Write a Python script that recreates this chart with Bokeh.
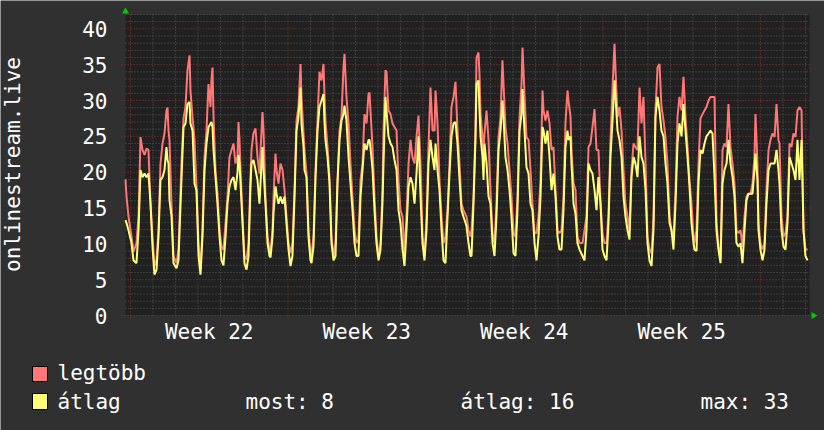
import math
from bokeh.plotting import figure
from bokeh.models import Range1d
from bokeh.core.properties import value
from bokeh.embed import file_html
from bokeh.resources import INLINE

# ---------------- data (hours since graph start) ----------------
hours = [
    0, 1.1, 3.2, 6.4, 8.5, 11.7, 13.9, 16.0, 18.1, 20.3, 22.4, 24.5, 26.7, 28.8, 30.9,
    33.1, 35.2, 37.3, 39.5, 41.6, 43.7, 44.8, 45.9, 46.9, 49.1, 51.2, 54.4, 56.5, 59.7, 61.9,
    64.0, 66.1, 68.3, 69.3, 71.5, 73.6, 75.7, 77.9, 80.0, 82.1, 84.3, 86.4, 88.5, 89.6, 90.7,
    91.7, 92.8, 93.9, 96.0, 98.1, 100.3, 102.4, 104.5, 106.7, 108.8, 110.9, 113.1, 115.2, 117.3, 119.5,
    120.5, 121.6, 122.7, 124.8, 126.9, 129.1, 131.2, 133.3, 134.4, 136.5, 138.7, 140.8, 142.9, 145.1, 146.1,
    147.2, 149.3, 151.5, 153.6, 154.7, 156.8, 157.9, 160.0, 161.1, 163.2, 165.3, 167.5, 169.6, 171.7, 173.9,
    176.0, 178.1, 180.3, 182.4, 184.5, 186.7, 187.7, 189.9, 190.9, 193.1, 195.2, 197.3, 198.4, 200.5, 202.7,
    204.8, 206.9, 209.1, 211.2, 212.3, 213.3, 215.5, 217.6, 219.7, 221.9, 224.0, 226.1, 228.3, 230.4, 232.5,
    233.6, 235.7, 237.9, 240.0,
    242.1, 244.3, 246.4, 248.5, 250.7, 252.8, 254.9, 257.1, 259.2, 260.3, 261.3, 263.5, 265.6, 267.7, 269.9,
    272.0, 274.1, 275.2, 277.3, 278.4, 280.5, 282.7, 284.8, 286.9, 289.1, 291.2, 293.3, 295.5, 297.6, 299.7,
    301.9, 304.0, 306.1, 308.3, 310.4, 312.5, 314.7, 316.8, 318.9, 321.1, 323.2, 325.3, 327.5, 329.6, 330.7,
    332.8, 334.9, 337.1, 339.2, 341.3, 343.5, 345.6, 347.7, 349.9, 352.0, 354.1, 356.3, 358.4, 360.5,
    363.7, 365.9, 368.0, 369.1, 371.2, 373.3, 374.4, 376.5, 377.6, 378.7, 380.8, 381.9, 382.9, 385.1, 387.2,
    389.3, 391.5, 393.6, 395.7, 397.9, 400.0, 402.1, 403.2, 405.3, 407.5, 409.6, 411.7, 413.9, 416.0, 418.1,
    420.3, 422.4, 423.5, 425.6, 427.7, 429.9, 432.0, 434.1, 436.3, 438.4, 440.5, 442.7, 444.8, 445.9, 448.0,
    450.1, 452.3, 454.4, 456.5, 458.7, 460.8, 462.9, 465.1, 467.2, 469.3, 471.5, 472.5, 474.7, 475.7, 477.9,
    480.0, 482.1, 484.3,
    487.5, 489.6, 491.7, 493.9, 496.0, 498.1, 500.3, 502.4, 504.5, 506.7, 508.8, 510.9, 513.1, 515.2, 517.3,
    519.5, 521.6, 522.7, 524.8, 526.9, 529.1, 531.2, 533.3, 535.5, 537.6, 539.7, 541.9, 544.0, 546.1, 548.3,
    550.4, 552.5, 554.7, 556.8, 558.9, 561.1, 563.2, 565.3, 567.5, 569.6, 571.7, 573.9, 576.0, 578.1, 580.3,
    582.4, 584.5, 586.7, 588.8, 590.9, 593.1, 595.2, 597.3, 599.5, 601.6, 603.7, 605.9,
    606.9, 609.1, 611.2, 613.3, 615.5, 617.6, 619.7, 621.9, 624.0, 626.1, 628.3, 630.4, 632.5, 634.7, 636.8,
    638.9, 641.1, 643.2, 645.3, 647.5, 649.6, 651.7, 653.9, 656.0, 658.1, 660.3, 662.4, 664.5, 666.7, 668.8,
    670.9, 672.0, 674.1, 675.2, 677.3, 679.5, 681.6, 683.7, 685.9, 688.0, 690.1, 692.3, 694.4, 696.5, 697.6,
    699.7, 701.9, 704.0, 706.1, 708.3, 710.4, 712.5, 714.7, 716.8, 718.9, 721.1, 723.2, 725.3, 727.5,
]

legtobb = [
    19.0, 16.6, 13.8, 11.0, 8.9, 10.1, 13.8, 24.9, 23.1, 22.4, 23.3, 23.1, 15.6, 11.0, 6.9,
    7.8, 11.9, 21.2, 24.0, 25.4, 28.6, 29.0, 25.8, 24.5, 15.6, 8.3, 7.3, 9.2, 21.2, 27.5,
    29.1, 34.2, 36.3, 31.4, 27.7, 24.5, 18.0, 10.1, 6.4, 11.9, 22.1, 25.8, 32.3, 30.5, 29.1,
    32.8, 34.6, 27.7, 20.3, 17.0, 11.9, 9.6, 9.2, 12.9, 16.6, 22.1, 23.1, 24.0, 21.2, 22.1,
    27.0, 24.5, 20.3, 13.8, 8.3, 7.8, 10.1, 19.3, 23.1, 25.4, 26.1, 22.1, 19.8, 25.8, 28.4,
    25.8, 16.6, 11.0, 9.2, 8.7, 11.9, 16.6, 22.6, 20.3, 18.4, 21.2, 20.3, 17.5, 13.8, 10.1,
    8.7, 10.1, 17.5, 27.2, 29.1, 35.1, 30.5, 25.4, 23.1, 19.8, 11.9, 8.7, 8.3, 11.0, 20.3,
    27.2, 34.0, 32.8, 35.1, 30.5, 27.2, 23.5, 19.3, 11.0, 8.3, 10.1, 18.9, 25.8, 27.7, 34.6,
    36.5, 30.5, 26.8, 21.2,
    16.6, 11.9, 10.1, 10.6, 18.9, 21.2, 28.1, 26.8, 30.9, 31.1, 28.6, 23.5, 16.6, 11.0, 8.3,
    10.1, 17.5, 25.8, 34.2, 34.0, 28.6, 28.1, 26.8, 26.3, 25.8, 18.9, 14.7, 13.8, 8.3, 13.8,
    21.2, 24.5, 22.1, 21.2, 24.9, 27.9, 21.2, 11.0, 8.3, 13.8, 23.5, 31.8, 25.8, 25.8, 31.4,
    26.8, 18.9, 13.8, 10.1, 11.0, 14.7, 21.2, 29.1, 30.5, 32.6, 25.8, 21.2, 15.6, 14.7,
    13.8, 11.9, 11.0, 11.9, 16.6, 25.8, 36.0, 36.7, 33.7, 28.1, 24.9, 22.1, 25.4, 28.6, 24.5,
    17.5, 11.5, 10.1, 15.6, 24.9, 27.7, 35.6, 32.3, 26.3, 24.0, 20.3, 16.6, 11.5, 11.0, 16.6,
    27.7, 32.3, 37.4, 30.9, 24.9, 24.5, 20.3, 15.6, 11.5, 11.5, 13.8, 18.9, 31.4, 28.6, 27.2,
    28.6, 26.8, 23.1, 23.5, 17.5, 11.9, 11.5, 11.9, 16.6, 26.8, 31.4, 30.0, 27.7, 23.1, 18.4,
    17.5, 11.0, 10.1,
    10.1, 11.9, 13.8, 23.5, 24.0, 26.3, 28.8, 23.1, 23.1, 15.6, 11.5, 10.1, 10.1, 14.2, 24.5,
    31.8, 37.9, 34.2, 27.7, 29.1, 25.8, 20.3, 15.6, 13.8, 11.9, 20.3, 24.0, 23.5, 23.1, 31.8,
    26.8, 30.5, 21.2, 11.0, 9.2, 8.7, 13.8, 28.6, 34.6, 35.1, 29.1, 27.2, 24.9, 21.2, 13.8,
    11.9, 10.6, 17.5, 27.7, 30.5, 28.6, 33.3, 27.7, 23.5, 18.9, 15.6, 11.0,
    10.1, 11.9, 21.2, 27.5, 28.1, 28.6, 29.1, 30.0, 30.5, 30.5, 30.5, 12.9, 9.6, 7.8, 23.1,
    24.0, 23.5, 29.5, 23.5, 21.2, 18.4, 11.9, 11.5, 11.9, 9.6, 13.8, 16.6, 17.0, 17.0, 18.4,
    22.1, 28.1, 21.2, 12.9, 10.1, 9.2, 10.1, 17.5, 23.1, 24.5, 25.4, 24.9, 29.5, 24.5, 24.0,
    13.8, 11.0, 11.5, 13.8, 24.0, 23.5, 25.4, 24.9, 28.6, 29.1, 28.6, 11.9, 9.2, 9.2,
]

atlag = [
    13.3, 12.9, 11.9, 10.1, 7.7, 7.3, 11.9, 20.3, 19.3, 19.8, 19.3, 19.8, 15.6, 9.6, 5.7,
    6.4, 11.0, 18.9, 19.3, 20.3, 23.5, 21.7, 21.2, 16.1, 13.8, 7.3, 6.6, 7.7, 18.9, 26.3,
    26.8, 29.5, 29.8, 26.8, 25.8, 18.4, 17.5, 8.3, 5.7, 11.0, 20.3, 24.0, 26.3, 26.5, 26.8,
    27.0, 26.3, 23.1, 19.3, 15.6, 11.0, 7.7, 7.0, 11.0, 15.6, 18.0, 18.9, 19.3, 17.5, 20.0,
    22.4, 21.2, 18.4, 12.9, 7.3, 6.4, 8.3, 18.0, 21.2, 21.7, 20.3, 18.9, 15.6, 21.2, 23.5,
    20.3, 15.6, 10.1, 8.3, 8.1, 11.0, 14.3, 18.0, 17.0, 15.6, 16.6, 15.6, 16.6, 12.9, 9.2,
    6.9, 8.3, 16.6, 25.8, 27.7, 31.8, 26.8, 23.5, 20.3, 19.3, 11.0, 7.7, 7.3, 9.6, 19.3,
    25.8, 29.1, 30.0, 30.9, 26.8, 24.5, 22.1, 18.4, 10.1, 7.7, 8.3, 18.4, 24.5, 27.2, 28.1,
    29.3, 27.2, 22.1, 18.4,
    14.7, 10.1, 8.3, 8.3, 16.6, 20.3, 24.0, 23.1, 24.5, 24.5, 23.5, 20.3, 14.7, 10.1, 7.7,
    9.2, 15.6, 21.2, 30.5, 28.6, 25.0, 24.0, 23.5, 21.7, 20.3, 14.7, 12.9, 9.2, 6.9, 11.9,
    18.0, 19.3, 18.4, 15.6, 19.8, 25.0, 16.6, 10.1, 7.7, 11.9, 21.2, 24.5, 22.1, 20.3, 24.0,
    20.3, 17.5, 11.9, 7.7, 7.3, 13.8, 19.8, 25.0, 26.8, 27.0, 24.0, 18.9, 14.7, 13.8,
    12.5, 10.1, 8.3, 8.3, 15.6, 24.5, 32.3, 32.8, 28.6, 25.0, 22.1, 18.9, 24.0, 21.2, 16.6,
    15.6, 10.1, 8.3, 13.8, 23.1, 25.8, 30.0, 27.7, 22.1, 20.3, 17.5, 13.8, 8.7, 8.3, 14.7,
    25.8, 28.1, 31.6, 25.8, 20.7, 19.8, 15.6, 14.7, 10.1, 7.7, 11.0, 16.6, 26.3, 25.8, 24.0,
    25.8, 22.1, 17.5, 19.8, 16.6, 11.0, 9.2, 9.2, 14.7, 23.5, 25.8, 24.5, 25.0, 21.2, 15.6,
    14.2, 10.1, 9.2,
    8.3, 7.7, 11.9, 21.2, 20.3, 19.8, 17.5, 14.7, 19.3, 15.6, 9.2, 8.3, 7.7, 12.9, 22.1,
    27.2, 32.8, 30.5, 25.8, 24.5, 22.1, 16.6, 13.8, 11.9, 10.6, 19.3, 22.1, 21.2, 19.3, 25.0,
    22.1, 21.2, 17.5, 10.1, 7.7, 6.9, 11.9, 27.7, 30.5, 28.6, 25.8, 25.0, 21.2, 18.4, 12.9,
    11.9, 9.2, 15.6, 24.0, 26.8, 25.0, 29.5, 25.8, 22.1, 18.0, 12.9, 10.1,
    9.2, 9.0, 18.4, 23.1, 22.6, 24.0, 25.0, 25.4, 25.8, 25.4, 19.3, 11.9, 9.2, 7.3, 18.4,
    20.3, 21.2, 24.5, 21.2, 19.3, 16.6, 10.1, 9.6, 10.1, 7.3, 11.9, 16.1, 17.0, 17.0, 17.0,
    20.3, 22.6, 18.9, 11.9, 9.2, 7.7, 9.2, 15.6, 20.3, 21.2, 21.2, 21.2, 23.1, 20.3, 18.4,
    11.9, 9.6, 9.2, 12.9, 22.1, 21.2, 20.3, 18.9, 24.5, 18.9, 24.5, 11.9, 8.3, 7.7,
]

week_labels = ["Week 22", "Week 23", "Week 24", "Week 25"]
week_start_hours = [5.3, 173.3, 341.3, 509.3, 677.3]
y_major_ticks = [0, 5, 10, 15, 20, 25, 30, 35, 40]
y_label = "onlinestream.live"
series_names = ["legtöbb", "átlag"]
stat_most, stat_atlag, stat_max = 8, 16, 33

# ---------------- style / layout ----------------
W, H = 824, 430
BG = "#303030"
PLOT_BG = "#212121"
RED = "#ff7777"
YEL = "#ffff77"
TXT = "#ffffff"
GREEN = "#00cc00"
MINOR = "#585858"
MAJOR = "#8a3232"
FONT = "DejaVu Sans Mono"
FS = "21px"

X_END = 729.6          # hours shown
Y_END = 42             # value axis top
PX_L, PX_R, PX_T, PX_B = 125, 809, 14, 315   # plot-area edges on the canvas

sx = (PX_R - PX_L) / X_END
sy = (PX_B - PX_T) / Y_END


def dx(px):
    return (px - PX_L) / sx


def dy(py):
    return (PX_B - py) / sy


p = figure(width=W, height=H, output_backend="svg", toolbar_location=None,
           x_range=Range1d(dx(0), dx(W)), y_range=Range1d(dy(H), dy(0)),
           x_axis_location=None, y_axis_location=None,
           min_border_left=0, min_border_right=0, min_border_top=0, min_border_bottom=0)
p.background_fill_color = BG
p.border_fill_color = BG
p.outline_line_color = None
p.xgrid.visible = False
p.ygrid.visible = False

# plot area
p.quad(left=[0], right=[X_END], bottom=[0], top=[Y_END], fill_color=PLOT_BG, line_color=None)

# grid: minor (days / units), then major (weeks / fives)
day_lines = [week_start_hours[0] + 24 * k for k in range(31) if week_start_hours[0] + 24 * k < X_END]
minor_x = [d for d in day_lines if d not in week_start_hours]
minor_y = [v for v in range(1, Y_END + 1) if v not in y_major_ticks]
p.segment(x0=minor_x, y0=[0] * len(minor_x), x1=minor_x, y1=[Y_END] * len(minor_x),
          line_color=MINOR, line_width=1, line_dash="1 2")
p.segment(x0=[0] * len(minor_y), y0=minor_y, x1=[X_END] * len(minor_y), y1=minor_y,
          line_color=MINOR, line_width=1, line_dash="1 2")
p.segment(x0=week_start_hours, y0=[dy(318)] * len(week_start_hours),
          x1=week_start_hours, y1=[Y_END] * len(week_start_hours),
          line_color=MAJOR, line_width=1, line_dash="1 2")
p.segment(x0=[dx(121)] * len(y_major_ticks), y0=y_major_ticks,
          x1=[X_END] * len(y_major_ticks), y1=y_major_ticks,
          line_color=MAJOR, line_width=1, line_dash="1 2")

# axis arrows
p.scatter(x=[0], y=[dy(11)], marker="triangle", size=7, fill_color=GREEN, line_color=None)
p.scatter(x=[dx(813)], y=[0], marker="triangle", size=7, angle=-math.pi / 2,
          fill_color=GREEN, line_color=None)

# series
p.line(hours, legtobb, line_color=RED, line_width=2)
p.line(hours, atlag, line_color=YEL, line_width=2)

# tick labels
p.text(x=[dx(107)] * len(y_major_ticks), y=y_major_ticks, text=[str(v) for v in y_major_ticks],
       text_align="right", text_baseline="middle", text_color=TXT,
       text_font=value(FONT), text_font_size=value(FS))
week_mids = [s + 84 for s in week_start_hours[:len(week_labels)]]
p.text(x=week_mids, y=[dy(331)] * len(week_mids), text=week_labels,
       text_align="center", text_baseline="alphabetic", text_color=TXT,
       text_font=value(FONT), text_font_size=value(FS))

# y title
p.text(x=[dx(12.5)], y=[dy(164)], text=[y_label], angle=math.pi / 2,
       text_align="center", text_baseline="middle",
       text_color=TXT, text_font=value(FONT), text_font_size=value(FS))

# legend
p.quad(left=[dx(32)] * 2, right=[dx(47)] * 2, top=[dy(366), dy(393)], bottom=[dy(381), dy(409)],
       fill_color=[RED, YEL], line_color="#000000", line_width=1)
p.text(x=[dx(57), dx(57), dx(245), dx(460), dx(700)],
       y=[dy(372), dy(401), dy(401), dy(401), dy(401)],
       text=[series_names[0], series_names[1], f"most: {stat_most}",
             f"átlag: {stat_atlag}", f"max: {stat_max}"],
       text_align="left", text_baseline="alphabetic", text_color=TXT,
       text_font=value(FONT), text_font_size=value(FS))

open("out.html", "w").write(file_html(p, INLINE))
